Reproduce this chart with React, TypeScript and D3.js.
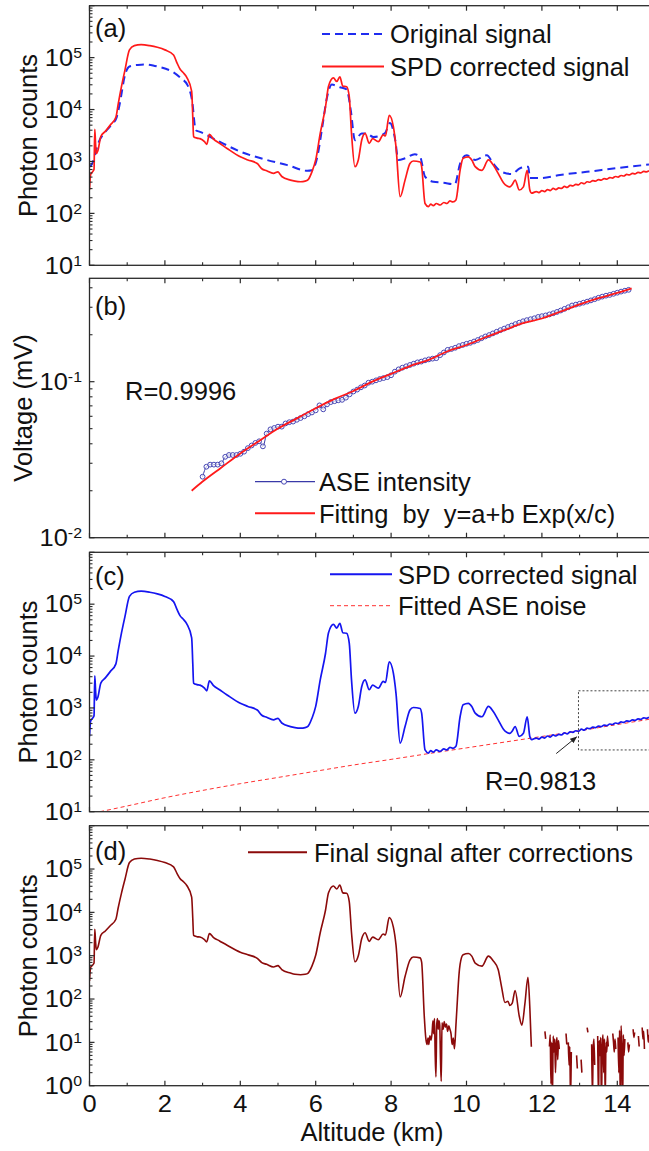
import React from "react";
import * as d3 from "d3";

const FONT = "'Liberation Sans', Arial, Helvetica, sans-serif";
const W = 649;
const H = 1151;

// ---------------- DATA ----------------
// altitude (km) , photon counts
const spdSignal: [number, number][] = [
  [0.0, 282], [0.03, 562], [0.08, 631], [0.12, 708], [0.14, 4170], [0.16, 2240], [0.18, 1413], [0.22, 1585],
  [0.3, 3020], [0.42, 3800], [0.55, 5010], [0.7, 7080], [0.76, 12600], [0.85, 28200], [0.94, 57500],
  [1.06, 141000], [1.19, 170000], [1.37, 178000], [1.6, 170000], [1.8, 158000], [2.0, 141000], [2.23, 112000],
  [2.32, 79400], [2.4, 60300], [2.5, 50100], [2.58, 41700], [2.71, 22400], [2.74, 7080], [2.76, 3020],
  [2.85, 2820], [2.93, 2750], [3.05, 2400], [3.11, 2140], [3.18, 3310], [3.29, 2690], [3.45, 2240],
  [3.65, 1780], [4.0, 1230], [4.2, 1070], [4.45, 912], [4.57, 724], [4.7, 661], [4.88, 589], [5.0, 631],
  [5.05, 575], [5.1, 513], [5.33, 437], [5.45, 417], [5.6, 407], [5.72, 417], [5.8, 447], [5.9, 631],
  [6.0, 1070], [6.12, 3470], [6.26, 11200], [6.34, 28200], [6.47, 40700], [6.56, 34700], [6.64, 42700],
  [6.72, 28200], [6.82, 27500], [6.89, 17800], [6.95, 3470], [7.04, 794], [7.13, 1070], [7.22, 2570],
  [7.31, 3470], [7.42, 2240], [7.51, 2750], [7.66, 2400], [7.79, 3240], [7.85, 3090], [7.95, 7760],
  [8.06, 4680], [8.13, 1910], [8.24, 209], [8.37, 437], [8.5, 912], [8.59, 1020], [8.77, 977], [8.81, 794],
  [8.9, 155], [8.99, 135], [9.05, 151], [9.12, 141], [9.2, 155], [9.3, 145], [9.4, 162], [9.48, 155],
  [9.56, 174], [9.64, 166], [9.72, 182], [9.83, 676], [9.91, 1150], [10.05, 1230], [10.14, 1070],
  [10.23, 794], [10.41, 676], [10.58, 1070], [10.71, 851], [10.84, 589], [10.98, 389], [11.15, 324],
  [11.21, 355], [11.29, 437], [11.4, 282], [11.51, 324], [11.61, 676], [11.68, 282], [11.73, 245],
  [11.85, 263], [11.92, 251], [12.0, 275], [12.07, 263], [12.15, 288], [12.22, 275], [12.3, 302],
  [12.37, 288], [12.45, 309], [12.52, 302], [12.6, 331], [12.67, 316], [12.75, 347], [12.82, 339],
  [12.9, 363], [12.97, 355], [13.05, 389], [13.12, 372], [13.2, 407], [13.27, 398], [13.35, 427],
  [13.42, 417], [13.5, 447], [13.57, 437], [13.65, 468], [13.72, 457], [13.8, 490], [13.87, 479],
  [13.95, 513], [14.02, 501], [14.1, 537], [14.17, 525], [14.25, 562], [14.32, 550], [14.4, 589],
  [14.47, 575], [14.55, 617], [14.62, 603], [14.7, 646], [14.77, 631], [14.84, 661],
];

const originalSignal: [number, number][] = [
  [0.0, 794], [0.08, 933], [0.15, 1410], [0.25, 2400], [0.4, 3550], [0.6, 5250], [0.72, 7080], [0.8, 12600],
  [0.94, 45700], [1.06, 67600], [1.28, 72400], [1.46, 74100], [1.73, 69200], [2.0, 61700], [2.2, 53700],
  [2.43, 39800], [2.6, 29500], [2.72, 15100], [2.82, 3980], [2.93, 3720], [3.37, 2570], [4.0, 1550],
  [4.7, 1070], [5.25, 851], [5.78, 661], [5.9, 676], [6.04, 1200], [6.17, 4370], [6.29, 15800],
  [6.43, 30200], [6.64, 26900], [6.82, 24500], [6.93, 9770], [7.04, 2570], [7.22, 3470], [7.35, 3470],
  [7.53, 2950], [7.83, 3470], [7.97, 5500], [8.11, 2570], [8.19, 1070], [8.37, 1150], [8.63, 1380],
  [8.77, 1230], [8.9, 513], [9.12, 407], [9.39, 389], [9.69, 363], [9.83, 912], [10.0, 1320],
  [10.23, 1070], [10.54, 1320], [10.71, 912], [10.93, 631], [11.2, 575], [11.42, 741], [11.64, 794],
  [11.68, 479], [11.95, 479], [12.48, 550], [13.19, 631], [14.07, 759], [14.84, 871],
];

const aseNoise: [number, number][] = [
  [0.28, 10], [1, 12.9], [2, 18.6], [3, 25.7], [4, 34.7], [5, 45.7], [6, 60.3], [7, 79.4], [8, 102],
  [9, 132], [10, 170], [11, 219], [12, 282], [13, 363], [14, 479], [14.84, 603],
];

// ASE intensity (mV), sampled every 0.1 km from 3.0 km
const aseStart = 3.0;
const aseStep = 0.1;
const aseIntensity: number[] = [
  0.0246, 0.0285, 0.0294, 0.0294, 0.0294, 0.03, 0.033, 0.0339, 0.0339, 0.0339,
  0.0345, 0.0356, 0.0375, 0.039, 0.0405, 0.0415, 0.0385, 0.0465, 0.0495, 0.0505,
  0.0515, 0.0515, 0.054, 0.055, 0.0555, 0.057, 0.0585, 0.06, 0.062, 0.0635,
  0.0655, 0.0705, 0.0665, 0.0715, 0.074, 0.075, 0.076, 0.0765, 0.079, 0.083,
  0.0865, 0.089, 0.092, 0.0945, 0.0985, 0.1, 0.102, 0.104, 0.1055, 0.107,
  0.11, 0.116, 0.12, 0.123, 0.1255, 0.128, 0.1305, 0.133, 0.1345, 0.137,
  0.139, 0.1405, 0.1415, 0.148, 0.154, 0.16, 0.162, 0.165, 0.169, 0.172,
  0.175, 0.1775, 0.181, 0.185, 0.19, 0.195, 0.199, 0.204, 0.209, 0.214,
  0.219, 0.224, 0.229, 0.234, 0.239, 0.244, 0.248, 0.2515, 0.255, 0.26,
  0.263, 0.266, 0.27, 0.2745, 0.28, 0.286, 0.293, 0.3, 0.308, 0.312,
  0.316, 0.321, 0.326, 0.332, 0.338, 0.345, 0.351, 0.356, 0.36, 0.366,
  0.372, 0.378, 0.383, 0.388,
];

const aseFit: [number, number][] = [
  [2.71, 0.02], [3.0, 0.0229], [3.5, 0.0282], [4.0, 0.0347], [4.5, 0.0417], [5.0, 0.0501], [5.5, 0.0582],
  [6.0, 0.0676], [6.5, 0.0776], [7.0, 0.0871], [7.5, 0.1], [8.0, 0.1122], [8.5, 0.1259], [9.0, 0.138],
  [9.5, 0.1567], [10.0, 0.1718], [10.5, 0.1928], [11.0, 0.2138], [11.5, 0.2371], [12.0, 0.2541],
  [12.5, 0.2818], [13.0, 0.3126], [13.5, 0.3428], [14.0, 0.3715], [14.38, 0.397],
];

const finalSignal: [number, number | null][] = [
  [0.0, 263], [0.03, 537], [0.08, 603], [0.12, 676], [0.14, 4070], [0.16, 2190], [0.18, 1380], [0.22, 1550],
  [0.3, 2950], [0.42, 3720], [0.55, 4900], [0.7, 6920], [0.76, 12600], [0.85, 28200], [0.94, 57500],
  [1.06, 141000], [1.19, 170000], [1.37, 178000], [1.6, 170000], [1.8, 158000], [2.0, 141000], [2.23, 112000],
  [2.32, 79400], [2.4, 60300], [2.5, 50100], [2.58, 41700], [2.71, 22400], [2.74, 7080], [2.76, 2950],
  [2.85, 2750], [2.93, 2690], [3.05, 2340], [3.11, 2090], [3.18, 3240], [3.29, 2630], [3.45, 2190],
  [3.65, 1740], [4.0, 1200], [4.2, 1050], [4.45, 871], [4.57, 692], [4.7, 631], [4.88, 550], [5.0, 589],
  [5.05, 537], [5.1, 479], [5.33, 398], [5.45, 372], [5.6, 363], [5.72, 372], [5.8, 398], [5.9, 575],
  [6.0, 1020], [6.12, 3390], [6.26, 11200], [6.34, 28200], [6.47, 40700], [6.56, 34700], [6.64, 42700],
  [6.72, 28200], [6.82, 27500], [6.89, 17800], [6.95, 3390], [7.04, 724], [7.13, 1000], [7.22, 2450],
  [7.31, 3390], [7.42, 2140], [7.51, 2690], [7.66, 2340], [7.79, 3160], [7.85, 3020], [7.95, 7590],
  [8.06, 4570], [8.13, 1780], [8.24, 112], [8.37, 331], [8.5, 794], [8.59, 933], [8.77, 891], [8.81, 708],
  [8.88, 40], [8.92, 12.6], [8.95, 8.9], [8.98, 12.6], [9.0, 8.9], [9.03, 14.1], [9.06, 11.2], [9.09, 17.8],
  [9.11, 31.6], [9.13, 15.8], [9.15, 35.5], [9.17, 5.0], [9.19, 1.6], [9.21, 25.1], [9.23, 35.5], [9.25, 20],
  [9.27, 31.6], [9.29, 25.1], [9.31, 4.0], [9.33, 1.26], [9.35, 28.2], [9.38, 20], [9.41, 30.2], [9.44, 22.4],
  [9.47, 26.3], [9.5, 17.8], [9.53, 24], [9.56, 20], [9.59, 15.8], [9.62, 8.9], [9.65, 12.6], [9.68, 7.1],
  [9.72, 25.1], [9.76, 100], [9.8, 355], [9.83, 631], [9.91, 1050], [10.05, 1120], [10.14, 977],
  [10.23, 676], [10.41, 575], [10.58, 977], [10.71, 759], [10.84, 479], [10.93, 191], [11.02, 83],
  [11.1, 89], [11.15, 71], [11.21, 79], [11.29, 158], [11.4, 40], [11.47, 25], [11.55, 79], [11.63, 316],
  [11.68, 63], [11.72, 7.9], [11.74, null],
  [12.06, null], [12.08, 18], [12.1, 12], [12.12, null],
  [12.18, null], [12.2, 8], [12.22, 15], [12.24, 1.1], [12.26, 10], [12.28, 0.5], [12.3, 14], [12.32, 6],
  [12.34, 12], [12.36, 2], [12.38, 9], [12.4, 13], [12.42, 4], [12.44, 11], [12.46, 7], [12.48, null],
  [12.62, null], [12.64, 16], [12.66, 9], [12.68, null],
  [12.69, null], [12.7, 10], [12.72, 3], [12.74, 8], [12.76, 0.4], [12.78, 6], [12.8, null],
  [12.9, null], [12.92, 5], [12.94, 2.5], [12.96, null],
  [13.02, null], [13.04, 4], [13.06, 2], [13.08, null],
  [13.18, null], [13.2, 22], [13.22, 17], [13.24, null],
  [13.3, null], [13.32, 9], [13.34, 0.5], [13.36, 7], [13.38, 12], [13.4, 3], [13.42, null],
  [13.46, null], [13.48, 14], [13.5, 0.4], [13.52, 11], [13.54, 5], [13.56, 13], [13.58, 0.3], [13.6, 9],
  [13.62, 15], [13.64, 2], [13.66, 12], [13.68, 0.5], [13.7, 10], [13.72, 6], [13.74, 14], [13.76, 8],
  [13.78, null],
  [13.86, null], [13.88, 16], [13.9, 10], [13.92, 6], [13.94, 12], [13.96, 7], [13.98, null],
  [14.0, null], [14.02, 13], [14.04, 2], [14.06, 19], [14.08, 0.4], [14.1, 24], [14.12, 8], [14.14, 0.3],
  [14.16, 15], [14.18, 5], [14.2, 12], [14.22, null],
  [14.26, null], [14.28, 10], [14.3, 6], [14.32, 9], [14.34, null],
  [14.4, null], [14.42, 20], [14.44, 13], [14.46, 17], [14.48, null],
  [14.54, null], [14.56, 14], [14.58, 8], [14.6, null],
  [14.64, null], [14.66, 22], [14.68, 12], [14.7, 18], [14.72, 7], [14.74, null],
  [14.78, null], [14.8, 20], [14.82, 10], [14.84, 15],
];

const xMajorTicks = [0, 2, 4, 6, 8, 10, 12, 14];
const xMinorTicks = [1, 3, 5, 7, 9, 11, 13, 15];

// ---------------- LAYOUT ----------------
const xScale = d3.scaleLinear().domain([0, 15]).range([89.5, 655]);

type PanelDef = {
  id: string;
  top: number;
  bottom: number;
  domain: [number, number];
  decades: number[];
};

const panelA: PanelDef = { id: "a", top: 5.7, bottom: 265.3, domain: [10, 1e6], decades: [1, 2, 3, 4, 5] };
const panelB: PanelDef = { id: "b", top: 278.3, bottom: 537.7, domain: [0.01, 0.46], decades: [-2, -1] };
const panelC: PanelDef = { id: "c", top: 552.3, bottom: 811.7, domain: [10, 1e6], decades: [1, 2, 3, 4, 5] };
const panelD: PanelDef = { id: "d", top: 825.7, bottom: 1085.7, domain: [1, 1e6], decades: [0, 1, 2, 3, 4, 5] };

const yScaleOf = (p: PanelDef) => d3.scaleLog().domain(p.domain).range([p.bottom, p.top]);

const AXIS = "#2a2a2a";
const TXT = "#111";

function TickText({ x, y, exp, size = 24 }: { x: number; y: number; exp: string; size?: number }) {
  return (
    <g transform={`translate(${x},${y}) scale(1.06,1)`}>
      <text x={0} y={0} textAnchor="end" fontFamily={FONT} fontSize={size} fill={TXT}>
        10
        <tspan dy={-8} fontSize={15}>
          {exp}
        </tspan>
      </text>
    </g>
  );
}

function Frame({ p, xLabels }: { p: PanelDef; xLabels?: boolean }) {
  const y = yScaleOf(p);
  const x0 = xScale.range()[0];
  const x1 = xScale.range()[1];
  const minor: number[] = [];
  const [lo, hi] = p.domain;
  for (let e = Math.floor(Math.log10(lo)); e <= Math.ceil(Math.log10(hi)); e++) {
    for (let m = 2; m <= 9; m++) {
      const v = m * Math.pow(10, e);
      if (v > lo && v < hi) minor.push(v);
    }
  }
  const majors = y.ticks().filter((v) => Math.abs(Math.log10(v) - Math.round(Math.log10(v))) < 1e-9);
  return (
    <g>
      <rect x={x0} y={p.top} width={x1 - x0} height={p.bottom - p.top} fill="none" stroke={AXIS} strokeWidth={1.3} />
      {xMajorTicks.map((t) => (
        <g key={"xm" + t}>
          <line x1={xScale(t)} x2={xScale(t)} y1={p.bottom} y2={p.bottom - 5} stroke={AXIS} strokeWidth={1.2} />
          <line x1={xScale(t)} x2={xScale(t)} y1={p.top} y2={p.top + 5} stroke={AXIS} strokeWidth={1.2} />
        </g>
      ))}
      {xMinorTicks.map((t) => (
        <g key={"xn" + t}>
          <line x1={xScale(t)} x2={xScale(t)} y1={p.bottom} y2={p.bottom - 3} stroke={AXIS} strokeWidth={1.1} />
          <line x1={xScale(t)} x2={xScale(t)} y1={p.top} y2={p.top + 3} stroke={AXIS} strokeWidth={1.1} />
        </g>
      ))}
      {majors.map((v) => (
        <line key={"ym" + v} x1={x0} x2={x0 + 5} y1={y(v)} y2={y(v)} stroke={AXIS} strokeWidth={1.2} />
      ))}
      {minor.map((v) => (
        <line key={"yn" + v} x1={x0} x2={x0 + 3} y1={y(v)} y2={y(v)} stroke={AXIS} strokeWidth={1.1} />
      ))}
      {p.decades.map((e) => (
        <TickText key={"lab" + e} x={82} y={y(Math.pow(10, e)) + 8.3} exp={String(e)} />
      ))}
      {xLabels &&
        xMajorTicks.map((t) => (
          <g key={"xl" + t} transform={`translate(${xScale(t)},${p.bottom + 26}) scale(1.06,1)`}>
            <text x={0} y={0} textAnchor="middle" fontFamily={FONT} fontSize={24} fill={TXT}>
              {t}
            </text>
          </g>
        ))}
    </g>
  );
}

function Clip({ p }: { p: PanelDef }) {
  const x0 = xScale.range()[0];
  const x1 = xScale.range()[1];
  return (
    <clipPath id={"clip-" + p.id}>
      <rect x={x0} y={p.top} width={x1 - x0} height={p.bottom - p.top} />
    </clipPath>
  );
}

function Label({ x, y, children, size = 25.5, anchor = "start" }: any) {
  return (
    <text x={x} y={y} fontFamily={FONT} fontSize={size} fill={TXT} textAnchor={anchor} style={{ whiteSpace: "pre" }}>
      {children}
    </text>
  );
}

function YTitle({ x, y, children }: any) {
  return (
    <text
      transform={`translate(${x},${y}) rotate(-90)`}
      textAnchor="middle"
      fontFamily={FONT}
      fontSize={25.5}
      fill={TXT}
    >
      {children}
    </text>
  );
}

export default function App() {
  const yA = yScaleOf(panelA);
  const yB = yScaleOf(panelB);
  const yC = yScaleOf(panelC);
  const yD = yScaleOf(panelD);

  const mk = (ys: d3.ScaleLogarithmic<number, number>, smooth = true) =>
    d3
      .line<[number, number | null]>()
      .defined((d) => d[1] != null && (d[1] as number) > 0)
      .x((d) => xScale(d[0]))
      .y((d) => ys(d[1] as number))
      .curve(smooth ? d3.curveMonotoneX : d3.curveLinear);

  const aseAlt = aseIntensity.map((_, i) => aseStart + i * aseStep);
  const asePts: [number, number][] = aseIntensity.map((v, i) => [aseAlt[i], v]);
  const fitLine = d3
    .line<[number, number]>()
    .x((d) => xScale(d[0]))
    .y((d) => yB(d[1]))
    .curve(d3.curveMonotoneX);

  // annotation positions (data coords)
  const arrowTail = [xScale(12.38), yC(132)];
  const arrowTip = [xScale(12.92), yC(275)];
  const boxX = xScale(12.97);
  const boxTop = yC(2140);
  const boxBot = yC(155);

  return (
    <svg
      width={W}
      height={H}
      viewBox={`0 0 ${W} ${H}`}
      style={{ position: "absolute", left: 0, top: 0, background: "#fff" }}
    >
      <defs>
        <Clip p={panelA} />
        <Clip p={panelB} />
        <Clip p={panelC} />
        <Clip p={panelD} />
        <marker id="arrowHead" viewBox="0 0 10 10" refX="9" refY="5" markerWidth="7" markerHeight="7" orient="auto">
          <path d="M0,1 L10,5 L0,9 z" fill="#222" />
        </marker>
      </defs>
      <rect x={0} y={0} width={W} height={H} fill="#fff" />

      {/* ---------- Panel (a) ---------- */}
      <g clipPath="url(#clip-a)">
        <path d={mk(yA)(originalSignal) || ""} fill="none" stroke="#1f2cf0" strokeWidth={2} strokeDasharray="8,5" />
        <path d={mk(yA)(spdSignal) || ""} fill="none" stroke="#ff1a1a" strokeWidth={1.7} strokeLinejoin="round" />
      </g>
      <Frame p={panelA} />
      <Label x={95} y={37}>(a)</Label>
      <line x1={322} x2={384} y1={34} y2={34} stroke="#1f2cf0" strokeWidth={2} strokeDasharray="8,5" />
      <Label x={390} y={43}>Original signal</Label>
      <line x1={322} x2={384} y1={66.5} y2={66.5} stroke="#ff1a1a" strokeWidth={2} />
      <Label x={390} y={75.5}>SPD corrected signal</Label>
      <YTitle x={36.5} y={(panelA.top + panelA.bottom) / 2}>Photon counts</YTitle>

      {/* ---------- Panel (b) ---------- */}
      <g clipPath="url(#clip-b)">
        <path d={fitLine(asePts) || ""} fill="none" stroke="#3a3aa8" strokeWidth={1} />
        {asePts.map((d, i) => (
          <circle key={i} cx={xScale(d[0])} cy={yB(d[1])} r={2.4} fill="#fff" fillOpacity={0.6} stroke="#4646b4" strokeWidth={1} />
        ))}
        <path d={fitLine(aseFit) || ""} fill="none" stroke="#ff1a1a" strokeWidth={1.8} />
      </g>
      <Frame p={panelB} />
      <Label x={95} y={315}>(b)</Label>
      <Label x={125} y={400}>R=0.9996</Label>
      <line x1={255} x2={315} y1={481.7} y2={481.7} stroke="#3a3aa8" strokeWidth={1.2} />
      <circle cx={284} cy={481.7} r={2.5} fill="#fff" stroke="#4646b4" strokeWidth={1} />
      <Label x={319} y={490.8}>ASE intensity</Label>
      <line x1={255} x2={315} y1={513.3} y2={513.3} stroke="#ff1a1a" strokeWidth={2} />
      <Label x={319} y={522.5}>{"Fitting  by  y=a+b Exp(x/c)"}</Label>
      <YTitle x={31.5} y={(panelB.top + panelB.bottom) / 2}>Voltage (mV)</YTitle>

      {/* ---------- Panel (c) ---------- */}
      <g clipPath="url(#clip-c)">
        <path d={mk(yC)(aseNoise) || ""} fill="none" stroke="#ff3030" strokeWidth={1} strokeDasharray="4,3" />
        <path d={mk(yC)(spdSignal) || ""} fill="none" stroke="#1515f0" strokeWidth={1.7} strokeLinejoin="round" />
      </g>
      <Frame p={panelC} />
      <Label x={95} y={585}>(c)</Label>
      <line x1={330} x2={392} y1={574.3} y2={574.3} stroke="#1515f0" strokeWidth={2} />
      <Label x={398} y={583.5}>SPD corrected signal</Label>
      <line x1={330} x2={392} y1={605.7} y2={605.7} stroke="#ff3030" strokeWidth={1} strokeDasharray="4,3" />
      <Label x={398} y={615}>Fitted ASE noise</Label>
      <rect
        x={boxX}
        y={boxTop}
        width={W + 20 - boxX}
        height={boxBot - boxTop}
        fill="none"
        stroke="#444"
        strokeWidth={1}
        strokeDasharray="2,2"
      />
      <line
        x1={arrowTail[0]}
        y1={arrowTail[1]}
        x2={arrowTip[0]}
        y2={arrowTip[1]}
        stroke="#222"
        strokeWidth={1}
        markerEnd="url(#arrowHead)"
      />
      <Label x={485} y={790}>R=0.9813</Label>
      <YTitle x={36.5} y={(panelC.top + panelC.bottom) / 2}>Photon counts</YTitle>

      {/* ---------- Panel (d) ---------- */}
      <g clipPath="url(#clip-d)">
        <path d={mk(yD)(finalSignal) || ""} fill="none" stroke="#8b0a0a" strokeWidth={1.6} strokeLinejoin="round" />
      </g>
      <Frame p={panelD} xLabels />
      <Label x={95} y={860}>(d)</Label>
      <line x1={248} x2={307} y1={852.3} y2={852.3} stroke="#8b0a0a" strokeWidth={2} />
      <Label x={314} y={861.5}>Final signal after corrections</Label>
      <YTitle x={36.5} y={(panelD.top + panelD.bottom) / 2}>Photon counts</YTitle>
      <Label x={372} y={1141} anchor="middle">Altitude (km)</Label>
    </svg>
  );
}
